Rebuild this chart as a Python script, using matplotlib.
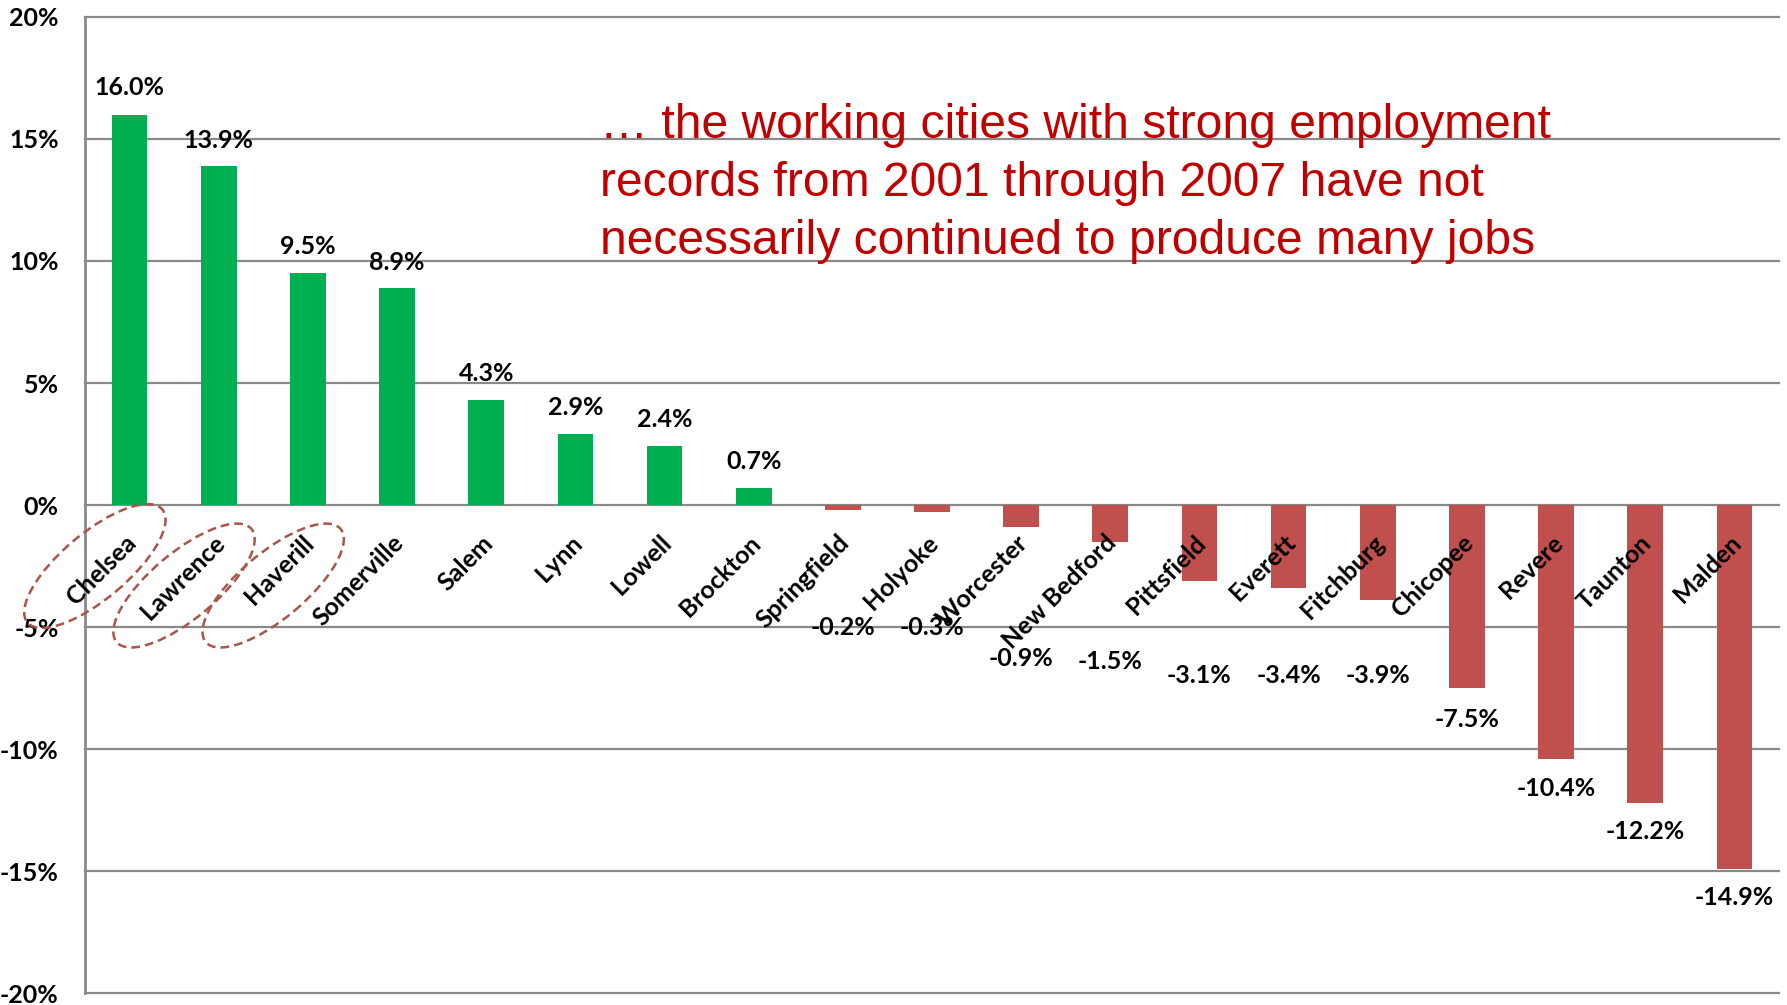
import matplotlib
matplotlib.use("Agg")
import matplotlib.pyplot as plt
import matplotlib.transforms as mtransforms
from matplotlib.patches import Ellipse

cities = ["Chelsea", "Lawrence", "Haverill", "Somerville", "Salem", "Lynn", "Lowell",
          "Brockton", "Springfield", "Holyoke", "Worcester", "New Bedford", "Pittsfield",
          "Everett", "Fitchburg", "Chicopee", "Revere", "Taunton", "Malden"]
change_pct = [16.0, 13.9, 9.5, 8.9, 4.3, 2.9, 2.4, 0.7, -0.2, -0.3, -0.9, -1.5, -3.1,
              -3.4, -3.9, -7.5, -10.4, -12.2, -14.9]
circled = ["Chelsea", "Lawrence", "Haverill"]
y_ticks = [-20, -15, -10, -5, 0, 5, 10, 15, 20]
note = ("\u2026 the working cities with strong employment\n"
        "records from 2001 through 2007 have not\n"
        "necessarily continued to produce many jobs")

# where the value labels sit (label centre, in % units) - hand placed like the original
label_y = [17.1, 14.95, 10.6, 9.95, 5.4, 4.0, 3.5, 1.8, -5.0, -5.0, -6.3, -6.4, -7.0,
           -7.0, -7.0, -8.8, -11.6, -13.4, -16.1]

GREEN = "#00B050"
RED = "#C0504D"
GRID = "#898989"
bold = dict(family=["Lato", "DejaVu Sans"], fontweight="bold", fontsize=18)

fig = plt.figure(figsize=(17.87, 10.05), dpi=100)
ax = fig.add_axes([0.0476, 0.0119, 0.9479, 0.9712])

x = list(range(len(cities)))
colors = [GREEN if v >= 0 else RED for v in change_pct]
ax.bar(x, change_pct, width=0.4, color=colors, zorder=3)

ax.set_xlim(-0.5, len(cities) - 0.5)
ax.set_ylim(-20, 20)
ax.set_yticks(y_ticks)
ax.set_yticklabels([f"{v}%" for v in y_ticks], **bold)
ax.tick_params(axis="y", length=0, pad=19)
ax.set_xticks([])
ax.grid(axis="y", color=GRID, linewidth=1.6)
ax.set_axisbelow(True)
for side in ("top", "right", "bottom"):
    ax.spines[side].set_visible(False)
ax.spines["left"].set_color(GRID)
ax.spines["left"].set_linewidth(2.0)
for gl in ax.get_ygridlines():
    gl.set_clip_on(False)

for i, (name, v, ly) in enumerate(zip(cities, change_pct, label_y)):
    ax.text(i + 0.03, -1.4, name, rotation=45, rotation_mode="anchor",
            ha="right", va="center", **bold)
    ax.text(i, ly, f"{v:.1f}%", ha="center", va="center", **bold)

# dashed rings around the highlighted city names
for name in circled:
    i = cities.index(name)
    cy = -2.5 if i == 0 else -3.3
    ring = Ellipse((0, 0), 1.76, 0.66, angle=40, fill=False, edgecolor="#A9554A",
                   linestyle=(0, (3.5, 2)), linewidth=1.8,
                   transform=fig.dpi_scale_trans + mtransforms.ScaledTranslation(i - 0.39, cy, ax.transData),
                   zorder=4, clip_on=False)
    ax.add_patch(ring)

fig.text(0.3357, 0.8975, note, color="#C00000", fontsize=34.6, va="top", ha="left",
         family=["Liberation Sans", "DejaVu Sans"], linespacing=1.365)

fig.savefig("out.png", dpi=100)
